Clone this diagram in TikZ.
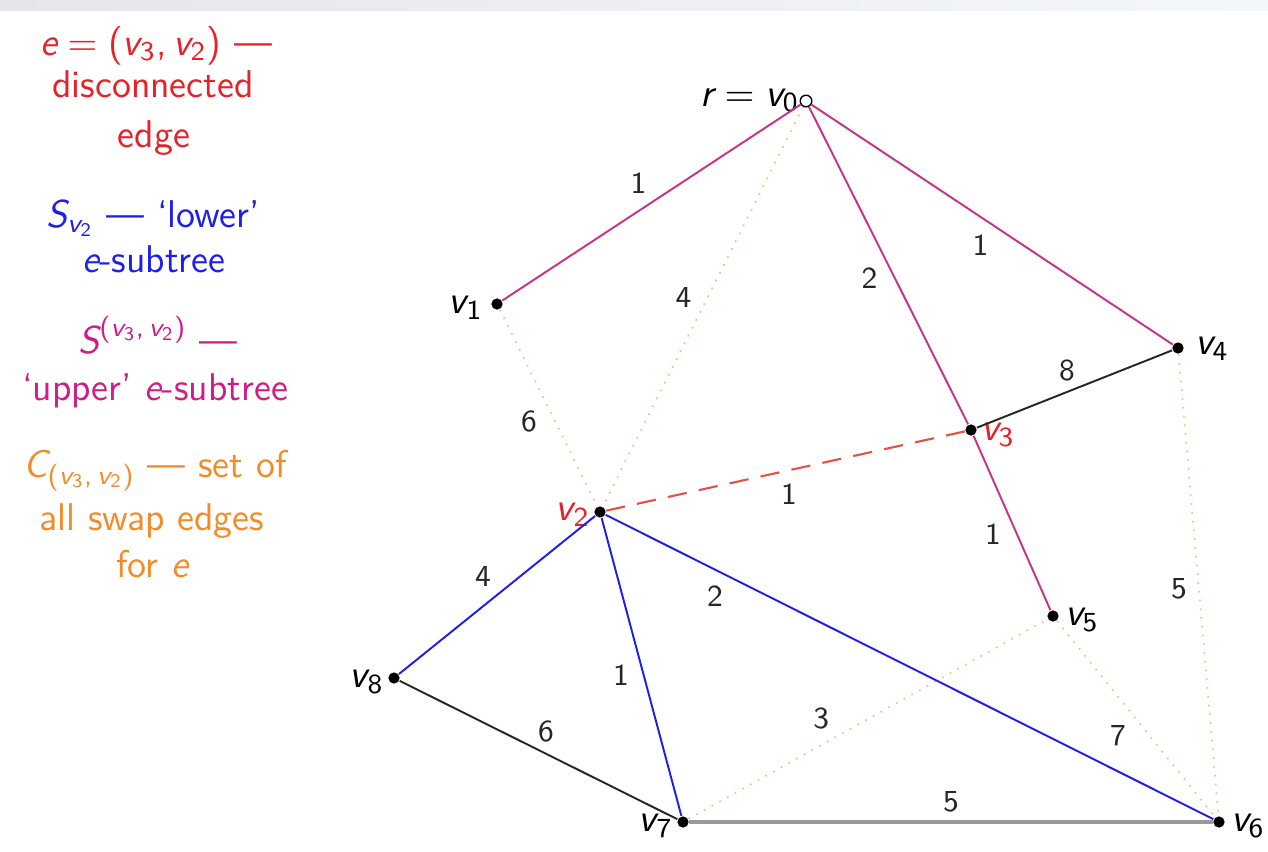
\documentclass[tikz,border=0pt]{standalone}
\usepackage{amsmath}
\usepackage{fontspec}
\renewcommand{\familydefault}{\sfdefault}
\definecolor{cred}{RGB}{232,32,40}
\definecolor{cblue}{RGB}{30,30,235}
\definecolor{cmag}{RGB}{205,30,135}
\definecolor{corg}{RGB}{242,140,40}
\definecolor{cedge}{RGB}{200,50,135}
\definecolor{cdash}{RGB}{232,80,70}
\definecolor{bandL}{RGB}{230,230,234}
\definecolor{bandR}{RGB}{244,247,250}
\newcommand{\mi}[1]{\text{\itshape #1}}
\newcommand{\md}[1]{\text{#1}}
\newcommand{\vl}[1]{$\mi{v}_{\md{#1}}$}
\tikzset{
  vert/.style={circle, fill=black, inner sep=0pt, minimum size=3.2pt},
  rootv/.style={circle, draw=black, line width=0.4pt, fill=white, inner sep=0pt, minimum size=3.3pt},
  vlab/.style={font=\fontsize{11.2}{13}\selectfont, inner sep=0pt},
  elab/.style={font=\fontsize{8.7}{10}\selectfont, inner sep=0pt, text=black!85},
  upperedge/.style={draw=cedge, line width=0.55pt},
  loweredge/.style={draw=cblue, line width=0.55pt},
  swapedge/.style={draw=corg!55, line width=0.5pt, dotted},
  otheredge/.style={draw=black!85, line width=0.55pt},
  grayedge/.style={draw=black!40, line width=0.9pt},
  cutedge/.style={draw=cdash, line width=0.6pt, dash pattern=on 5.5pt off 3.5pt},
  legend/.style={font=\fontsize{11}{13}\selectfont, inner sep=0pt, anchor=base},
}
\begin{document}
\begin{tikzpicture}[x=0.01cm, y=-0.01cm]
\useasboundingbox (0,0) rectangle (1268,851);
\shade[left color=bandL, right color=bandR] (0,0) rectangle (1268,10);

% legend
\node[legend, text=cred] (la1) at (156,55) {$\mi{e} = \text{(}\mi{v}_{\md 3}\text{,}\,\mi{v}_{\md 2}\text{)}$ ---};
\node[legend, text=cred] (la2) at (153,97) {disconnected};
\node[legend, text=cred] (la3) at (154,147) {edge};
\node[legend, text=cblue] (lb1) at (153,227) {$\mi{S}_{\mi{v}_{\md 2}}$ --- `lower'};
\node[legend, text=cblue] (lb2) at (154,272) {\itshape e\upshape-subtree};
\node[legend, text=cmag] (lc1) at (158,353) {$\mi{S}^{\text{(}\mi{v}_{\md 3}\text{,}\,\mi{v}_{\md 2}\text{)}}$ ---};
\node[legend, text=cmag] (lc2) at (155,400) {`upper' \itshape e\upshape-subtree};
\node[legend, text=corg] (ld1) at (155,477) {$\mi{C}_{\text{(}\mi{v}_{\md 3}\text{,}\,\mi{v}_{\md 2}\text{)}}$ --- set of};
\node[legend, text=corg] (ld2) at (152,530) {all swap edges};
\node[legend, text=corg] (ld3) at (152,577) {for \itshape e};

% vertices
\node[rootv] (v0) at (806,101) {};
\node[vert] (v1) at (497,304) {};
\node[vert] (v2) at (600,512) {};
\node[vert] (v3) at (971,430) {};
\node[vert] (v4) at (1178,348) {};
\node[vert] (v5) at (1053,616) {};
\node[vert] (v6) at (1219,822) {};
\node[vert] (v7) at (683,822) {};
\node[vert] (v8) at (394,678) {};

% vertex labels
\node[vlab, anchor=base east] (t0) at (800,106) {$\mi{r} = \mi{v}_{\md 0}$};
\node[vlab] (t1) at (466,308) {\vl{1}};
\node[vlab, text=cred] (t2) at (573,515) {\vl{2}};
\node[vlab, text=cred] (t3) at (998,435) {\vl{3}};
\node[vlab] (t4) at (1212,349) {\vl{4}};
\node[vlab] (t5) at (1082,620) {\vl{5}};
\node[vlab] (t6) at (1248,826) {\vl{6}};
\node[vlab] (t7) at (656,826) {\vl{7}};
\node[vlab] (t8) at (367,682) {\vl{8}};

% swap edges (dotted)
\draw[swapedge] (v0) -- node[elab, pos=0.5, shift={(-19.5,-9)}] (e02) {4} (v2);
\draw[swapedge] (v1) -- node[elab, pos=0.5, shift={(-19.5,13)}] (e12) {6} (v2);
\draw[swapedge] (v4) -- node[elab, pos=0.5, shift={(-19.5,4)}] (e46) {5} (v6);
\draw[swapedge] (v7) -- node[elab, pos=0.37, shift={(0,-27)}] (e75) {3} (v5);
\draw[swapedge] (v5) -- node[elab, pos=0.5, shift={(-18,17)}] (e56) {7} (v6);

% upper subtree
\draw[upperedge] (v0) -- node[elab, pos=0.5, shift={(-13,-19)}] (e01) {1} (v1);
\draw[upperedge] (v0) -- node[elab, pos=0.5, shift={(-19,13)}] (e03) {2} (v3);
\draw[upperedge] (v0) -- node[elab, pos=0.5, shift={(-11.5,21)}] (e04) {1} (v4);
\draw[upperedge] (v3) -- node[elab, pos=0.5, shift={(-19,11)}] (e35) {1} (v5);

% lower subtree
\draw[loweredge] (v2) -- node[elab, pos=0.5, shift={(-14,-19)}] (e28) {4} (v8);
\draw[loweredge] (v2) -- node[elab, pos=0.5, shift={(-20.5,8)}] (e27) {1} (v7);
\draw[loweredge] (v2) -- node[elab, pos=0.18, shift={(0,27)}] (e26) {2} (v6);

% other edges
\draw[otheredge] (v3) -- node[elab, pos=0.5, shift={(-7.5,-19)}] (e34) {8} (v4);
\draw[otheredge] (v8) -- node[elab, pos=0.5, shift={(7.5,-19)}] (e87) {6} (v7);
\draw[grayedge] (v7) -- node[elab, pos=0.5, shift={(0,-20)}] (e76) {5} (v6);

% disconnected edge
\draw[cutedge] (v3) -- node[elab, pos=0.5, shift={(3.5,23)}] (e32) {1} (v2);
\end{tikzpicture}
\end{document}
